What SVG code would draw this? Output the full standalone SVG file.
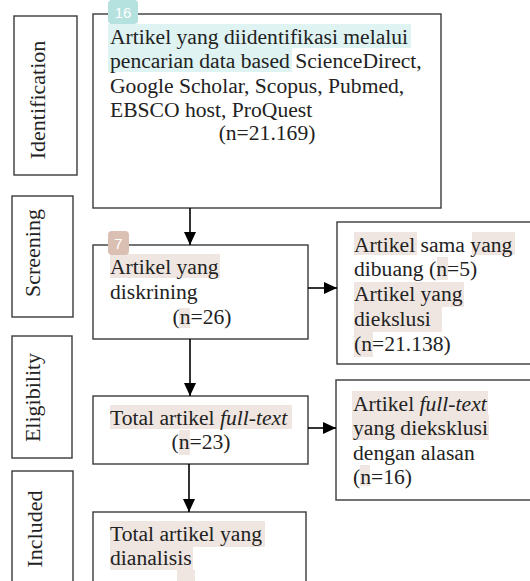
<svg xmlns="http://www.w3.org/2000/svg" width="530" height="581" viewBox="0 0 530 581">
<defs>
<style>
.box{fill:#fff;stroke:#3a3a3a;stroke-width:1.4}
.t{font-family:"Liberation Serif","Times New Roman",serif;font-size:21.6px;fill:#222}
.side{font-family:"Liberation Serif","Times New Roman",serif;font-size:22px;fill:#222}
.hb{fill:#efe6e1}
.ht{fill:#dff3f2}
.badge{font-family:"Liberation Sans",Arial,sans-serif;font-size:15px;fill:#fff}
.c{stroke:#000;stroke-width:1.6;fill:none;marker-end:url(#ah)}
</style>
<marker id="ah" markerUnits="userSpaceOnUse" markerWidth="14" markerHeight="14" viewBox="0 0 14 14" refX="13" refY="7" orient="auto">
<path d="M0,1 L13,7 L0,13 Z" fill="#000"/>
</marker>
</defs>
<rect width="530" height="581" fill="#fff"/>

<g id="side-identification">
<rect class="box" x="14" y="16" width="63" height="159"/>
<text class="side" text-anchor="middle" transform="translate(45,100) rotate(-90)">Identification</text>
</g>
<g id="side-screening">
<rect class="box" x="12" y="196" width="61" height="121"/>
<text class="side" text-anchor="middle" transform="translate(40,253) rotate(-90)">Screening</text>
</g>
<g id="side-eligibility">
<rect class="box" x="12" y="336" width="60" height="122"/>
<text class="side" text-anchor="middle" transform="translate(40,397.5) rotate(-90)">Eligibility</text>
</g>
<g id="side-included">
<rect class="box" x="12" y="471" width="61" height="130"/>
<text class="side" text-anchor="middle" transform="translate(42,529) rotate(-90)">Included</text>
</g>

<g id="identification">
<rect class="box" x="93" y="14" width="348" height="194"/>
<rect class="ht" x="108" y="24" width="303" height="24"/>
<rect class="ht" x="108" y="48" width="184" height="24"/>
<rect x="108" y="0" width="30" height="24" rx="4" fill="#b5e2df"/>
<text class="badge" x="123" y="18" text-anchor="middle">16</text>
<text class="t" x="110" y="44">Artikel yang diidentifikasi melalui</text>
<text class="t" x="110" y="68">pencarian data based ScienceDirect,</text>
<text class="t" x="110" y="92.5">Google Scholar, Scopus, Pubmed,</text>
<text class="t" x="110" y="116.5">EBSCO host, ProQuest</text>
<text class="t" x="267" y="140" text-anchor="middle">(n=21.169)</text>
</g>

<g id="screening">
<rect class="box" x="93" y="245" width="215" height="94"/>
<rect class="hb" x="110" y="254" width="110" height="24"/>
<rect class="hb" x="179" y="308" width="11" height="20"/>
<rect x="108" y="231" width="21" height="24" rx="4" fill="#d9c0b3"/>
<text class="badge" x="118.5" y="249" text-anchor="middle">7</text>
<text class="t" x="110" y="273.5">Artikel yang</text>
<text class="t" x="110" y="298.5">diskrining</text>
<text class="t" x="202" y="324" text-anchor="middle">(n=26)</text>
</g>

<g id="excluded-1">
<rect class="box" x="337" y="222" width="210" height="142"/>
<rect class="hb" x="354" y="232" width="63" height="23"/>
<rect class="hb" x="472" y="232" width="43" height="23"/>
<rect class="hb" x="437" y="257" width="11" height="23"/>
<rect class="hb" x="354" y="282" width="110" height="25"/>
<rect class="hb" x="354" y="307" width="88" height="25"/>
<rect class="hb" x="354" y="332" width="19" height="25"/>
<text class="t" x="354" y="251.5">Artikel sama yang</text>
<text class="t" x="354" y="276">dibuang (n=5)</text>
<text class="t" x="354" y="301">Artikel yang</text>
<text class="t" x="354" y="326">diekslusi</text>
<text class="t" x="354" y="351">(n=21.138)</text>
</g>

<g id="eligibility">
<rect class="box" x="93" y="396" width="215" height="68"/>
<rect class="hb" x="110" y="405" width="182" height="24"/>
<rect class="hb" x="179" y="430" width="11" height="25"/>
<text class="t" x="110" y="424.5">Total artikel <tspan font-style="italic">full-text</tspan></text>
<text class="t" x="201" y="449" text-anchor="middle">(n=23)</text>
</g>

<g id="excluded-2">
<rect class="box" x="336" y="380" width="210" height="120"/>
<rect class="hb" x="352" y="391" width="136" height="24"/>
<rect class="hb" x="352" y="415" width="137" height="25"/>
<rect class="hb" x="360" y="465" width="10" height="21"/>
<text class="t" x="353" y="410.5">Artikel <tspan font-style="italic">full-text</tspan></text>
<text class="t" x="353" y="435">yang dieksklusi</text>
<text class="t" x="353" y="459.5">dengan alasan</text>
<text class="t" x="353" y="484">(n=16)</text>
</g>

<g id="included">
<rect class="box" x="93" y="512" width="213" height="90"/>
<rect class="hb" x="110" y="521" width="155" height="26"/>
<rect class="hb" x="110" y="547" width="83" height="23"/>
<rect class="hb" x="177" y="570" width="18" height="12"/>
<text class="t" x="110" y="541">Total artikel yang</text>
<text class="t" x="110" y="565">dianalisis</text>
</g>

<g id="connectors">
<line class="c" x1="190" y1="208" x2="190" y2="245"/>
<line class="c" x1="190" y1="339" x2="190" y2="396"/>
<line class="c" x1="189" y1="464" x2="189" y2="512"/>
<line class="c" x1="308" y1="288" x2="337" y2="288"/>
<line class="c" x1="308" y1="428" x2="336" y2="428"/>
</g>
</svg>
